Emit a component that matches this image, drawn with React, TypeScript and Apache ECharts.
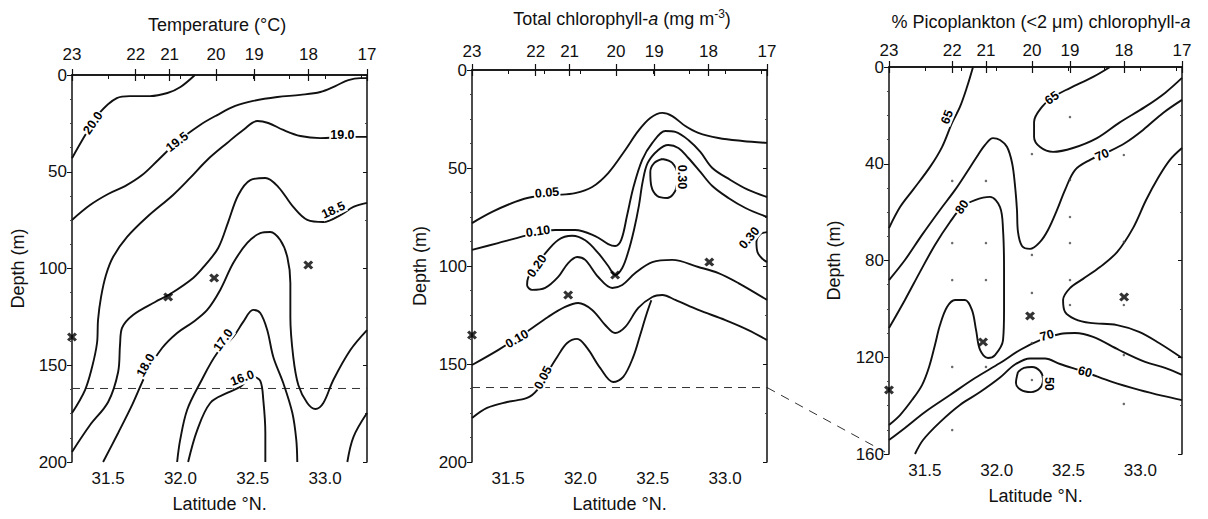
import React, { useEffect, useRef } from "react";
import * as echarts from "echarts";

const FONT = '"Liberation Sans", Arial, Helvetica, sans-serif';
const INK = "#111111";

// ---- shared axes ----
const stationLats = [31.25, 31.69, 31.925, 32.245, 32.51, 32.885, 33.29];
const stationNames = ["23", "22", "21", "20", "19", "18", "17"];
const latMin = 31.25;
const latMax = 33.29;

// ---- Panel 1: Temperature (°C) contours [lat, depth] ----
const temp20_0 = [[31.25, 43], [31.35, 30], [31.44, 19.6], [31.56, 11.9], [31.65, 10.9], [31.79, 10.9], [31.91, 9.3], [32.0, 6.2], [32.1, 0]];
const temp19_5 = [[31.25, 74.9], [31.375, 67.2], [31.5, 61.5], [31.617, 57.4], [31.735, 51.7], [31.846, 43.9], [31.977, 34.6], [32.136, 25.8], [32.254, 20.7], [32.379, 16], [32.503, 13.4], [32.67, 11.4], [32.829, 10.3], [32.967, 8.8], [33.071, 5.7], [33.161, 2.6], [33.244, 1.6], [33.29, 1.6]];
const temp19_0 = [[33.29, 32], [33.154, 32], [32.967, 32.6], [32.829, 31.5], [32.711, 28.4], [32.607, 24.8], [32.531, 23.8], [32.434, 28.4], [32.323, 35.1], [32.185, 43.9], [32.067, 53.2], [31.949, 62], [31.769, 73.4], [31.631, 83.7], [31.534, 94.1], [31.485, 103.4], [31.451, 114.7], [31.43, 126.6], [31.423, 138.5], [31.389, 150.9], [31.34, 162.8], [31.25, 174.7]];
const temp18_5 = [[31.25, 194.8], [31.375, 180.9], [31.5, 169], [31.569, 153.5], [31.582, 139.5], [31.596, 130.7], [31.672, 124], [31.825, 117.3], [31.929, 113.2], [32.088, 104.9], [32.171, 98.2], [32.261, 89.4], [32.33, 76], [32.4, 62], [32.483, 54.3], [32.587, 53.2], [32.677, 57.9], [32.78, 68.2], [32.877, 74.9], [32.988, 76], [33.106, 72.4], [33.196, 68.2], [33.29, 66.1]];
const temp18_0 = [[31.465, 200], [31.569, 185], [31.666, 170.5], [31.769, 153.5], [31.873, 141.1], [31.977, 133.3], [32.088, 127.6], [32.185, 121.4], [32.275, 111.1], [32.365, 97.2], [32.462, 86.8], [32.552, 81.7], [32.621, 81.1], [32.69, 85.3], [32.739, 94.1], [32.76, 107.5], [32.76, 125.1], [32.78, 145.7], [32.815, 160.2], [32.877, 169.5], [32.933, 172.6], [32.988, 169.5], [33.057, 157.6], [33.175, 142.1], [33.29, 131.8]];
const temp17_0 = [[31.977, 200], [31.998, 188.6], [32.046, 173.1], [32.136, 159.2], [32.254, 143.7], [32.365, 135.4], [32.434, 127.6], [32.503, 121.4], [32.552, 123], [32.6, 131.8], [32.642, 145.7], [32.711, 159.2], [32.774, 174.7], [32.801, 188.6], [32.808, 200]];
const temp16_0 = [[32.053, 200], [32.116, 183.5], [32.206, 169.5], [32.323, 164.3], [32.413, 161.2], [32.503, 156.1], [32.552, 158.1], [32.573, 168], [32.587, 185], [32.587, 200]];
const temp17_0b = [[33.154, 200], [33.196, 187.1], [33.29, 174.7]];
const tempLabels = [
  { lat: 31.395, depth: 24.8, text: "20.0" },
  { lat: 31.977, depth: 34.6, text: "19.5" },
  { lat: 33.12, depth: 31, text: "19.0" },
  { lat: 33.057, depth: 69.8, text: "18.5" },
  { lat: 31.76, depth: 150, text: "18.0" },
  { lat: 32.296, depth: 137, text: "17.0" },
  { lat: 32.427, depth: 156.6, text: "16.0" },
];
const tempMarkers = [[31.25, 135.4], [31.915, 114.7], [32.233, 104.9], [32.884, 98.2]];

// ---- Panel 2: Total chlorophyll-a contours ----
const chl005a = [[31.25, 78.1], [31.389, 72.4], [31.548, 67.3], [31.666, 64.8], [31.825, 63.8], [31.963, 62.8], [32.081, 59.7], [32.192, 52.6], [32.31, 40.8], [32.4, 31.1], [32.483, 24.5], [32.566, 21.9], [32.635, 23.5], [32.725, 28.6], [32.815, 32.1], [32.954, 34.7], [33.12, 36.2], [33.29, 37.2]];
const chl010a = [[31.25, 91.8], [31.43, 88.3], [31.666, 83.7], [31.825, 81.6], [31.963, 81.6], [32.102, 84.7], [32.192, 88.8], [32.24, 89.8], [32.282, 86.7], [32.323, 74], [32.365, 60.2], [32.427, 45.9], [32.497, 37.2], [32.587, 31.1], [32.656, 31.6], [32.746, 35.7], [32.829, 41.8], [32.912, 50], [33.037, 56.1], [33.161, 61.2], [33.29, 64.8]];
const chl020 = [[33.29, 117.3], [33.092, 108.7], [32.954, 103.6], [32.815, 100.5], [32.635, 96.9], [32.497, 98], [32.379, 103.6], [32.289, 109.7], [32.22, 111.2], [32.123, 105.6], [32.033, 96.9], [31.977, 95.4], [31.915, 98.5], [31.846, 105.6], [31.756, 111.2], [31.666, 112.2], [31.631, 109.7], [31.638, 106.1], [31.686, 99.5], [31.735, 95.4], [31.846, 86.7], [31.943, 84.6], [32.033, 86.9], [32.123, 93.4], [32.192, 100], [32.24, 104.6], [32.289, 101], [32.33, 92.9], [32.37, 81.6], [32.405, 68.9], [32.43, 57.1], [32.465, 47.4], [32.538, 40.8], [32.607, 38.3], [32.677, 39.8], [32.746, 44.9], [32.829, 52], [32.912, 59.2], [33.023, 65.3], [33.141, 70.4], [33.29, 75]];
const chl030a = [[32.566, 45.4], [32.635, 47.4], [32.67, 53.6], [32.663, 60.2], [32.6, 65.3], [32.531, 64.3], [32.49, 59.2], [32.483, 52], [32.511, 47.4], [32.566, 45.4]];
const chl030b = [[33.29, 82.7], [33.245, 83.7], [33.217, 87.8], [33.224, 92.9], [33.259, 96.4], [33.29, 98]];
const chl010b = [[31.25, 150.5], [31.43, 142.9], [31.617, 134.2], [31.776, 126], [31.894, 120.9], [31.984, 118.9], [32.081, 122.4], [32.171, 130.1], [32.24, 134.2], [32.31, 131.1], [32.4, 121.4], [32.497, 115.8], [32.566, 114.8], [32.656, 117.3], [32.815, 122.4], [33.002, 127.6], [33.161, 132.7], [33.29, 137.8]];
const chl005b = [[31.25, 177.6], [31.354, 172.4], [31.493, 169.4], [31.631, 167.3], [31.7, 163.3], [31.77, 154.6], [31.839, 146.4], [31.908, 139.3], [31.977, 137.2], [32.046, 141.8], [32.136, 152], [32.226, 159.2], [32.296, 156.6], [32.365, 146.4], [32.413, 135.2], [32.455, 125], [32.49, 117.5]];
const chlLabels = [
  { lat: 31.769, depth: 62.6, text: "0.05" },
  { lat: 31.707, depth: 82.3, text: "0.10" },
  { lat: 31.7, depth: 100, text: "0.20" },
  { lat: 32.704, depth: 54.6, text: "0.30" },
  { lat: 33.168, depth: 85.7, text: "0.30" },
  { lat: 31.562, depth: 137.2, text: "0.10" },
  { lat: 31.742, depth: 157, text: "0.05" },
];
const chlMarkers = [[31.25, 135.2], [31.915, 114.8], [32.24, 104.6], [32.891, 98]];

// ---- Panel 3: % Picoplankton chlorophyll-a contours ----
const pico65a = [[31.835, 0], [31.793, 8.3], [31.744, 16.5], [31.689, 23.1], [31.619, 33.1], [31.536, 41.3], [31.417, 50.8], [31.327, 57.9], [31.25, 66.6]];
const pico65b = [[32.789, 0], [32.671, 4.1], [32.51, 8.7], [32.392, 12.4], [32.315, 16.5], [32.26, 22.7], [32.26, 28.9], [32.302, 33.1], [32.392, 35.1], [32.531, 33.5], [32.698, 29.4], [32.852, 23.1], [33.033, 16.5], [33.172, 10.7], [33.29, 4.5]];
const pico70a = [[33.29, 13.6], [33.158, 19], [33.019, 26], [32.894, 31.4], [32.775, 35.1], [32.65, 38.4], [32.545, 42.6], [32.476, 50.8], [32.42, 59.1], [32.357, 67.4], [32.302, 72.3], [32.232, 75.2], [32.176, 74], [32.148, 68.2], [32.141, 59.1], [32.127, 48.8], [32.107, 39.7], [32.072, 33.1], [32.023, 30.2], [31.974, 29.4], [31.919, 32.2], [31.856, 37.6], [31.793, 43.4], [31.71, 50.8], [31.605, 59.1], [31.48, 69.4], [31.361, 79.8], [31.25, 88.1]];
const pico70b = [[33.29, 33.5], [33.206, 38.4], [33.123, 45.9], [33.04, 55], [32.949, 66.6], [32.838, 76.5], [32.719, 82.7], [32.601, 87.6], [32.51, 91.4], [32.462, 96.3], [32.476, 101.3], [32.545, 104.2], [32.65, 105.8], [32.838, 106.7], [32.991, 109.5], [33.13, 114.1], [33.29, 120.3]];
const pico80 = [[31.25, 107.9], [31.361, 96.3], [31.466, 84.7], [31.57, 73.6], [31.675, 64.1], [31.758, 57.9], [31.849, 55], [31.953, 53.7], [32.023, 57.9], [32.044, 67.4], [32.051, 83.9], [32.051, 100.5], [32.044, 112.9], [31.988, 119.1], [31.939, 120.3], [31.884, 117], [31.856, 108.7], [31.828, 100.5], [31.779, 96.3], [31.71, 96.3], [31.654, 99.2], [31.605, 106.7], [31.57, 114.9], [31.529, 124], [31.48, 131.5], [31.41, 137.7], [31.327, 143.9], [31.25, 148]];
const pico70c = [[31.25, 154.2], [31.361, 149.2], [31.501, 142.6], [31.675, 135.6], [31.849, 128.6], [32.023, 122.4], [32.162, 117], [32.302, 112.9], [32.441, 110.4], [32.545, 110], [32.671, 111.6], [32.852, 117], [33.033, 121.9], [33.172, 124.4], [33.29, 127.3]];
const pico60 = [[31.431, 160], [31.487, 154.2], [31.605, 146.8], [31.744, 139.7], [31.884, 134.4], [32.023, 128.4], [32.127, 123], [32.232, 120.5], [32.336, 120.5], [32.441, 122.8], [32.615, 126.1], [32.803, 130.2], [32.991, 133.5], [33.158, 136], [33.29, 137.7]];
const pico50 = [[32.148, 126.1], [32.19, 124.4], [32.246, 124], [32.302, 125.7], [32.322, 129], [32.302, 132.7], [32.239, 134.4], [32.169, 133.5], [32.134, 130.6], [32.148, 126.1]];
const picoLabels = [
  { lat: 31.654, depth: 20.7, text: "65" },
  { lat: 32.385, depth: 12.8, text: "65" },
  { lat: 32.733, depth: 36.4, text: "70" },
  { lat: 31.758, depth: 57.9, text: "80" },
  { lat: 32.35, depth: 111, text: "70" },
  { lat: 32.615, depth: 126.1, text: "60" },
  { lat: 32.365, depth: 131, text: "50" },
];
const picoMarkers = [[31.25, 133.5], [31.905, 113.7], [32.232, 102.9], [32.887, 95.1]];
const picoSamples = [
  [31.69, 47.1], [31.69, 72.8], [31.69, 88.1], [31.69, 124], [31.69, 150.1],
  [31.925, 47.1], [31.925, 72.8], [31.925, 88.1], [31.925, 124],
  [32.245, 36], [32.245, 77.7], [32.245, 93.4], [32.245, 114.1], [32.245, 129.4],
  [32.51, 20.7], [32.51, 46.7], [32.51, 62], [32.51, 72.8], [32.51, 88.1], [32.51, 98.4],
  [32.885, 36.4], [32.885, 72.3], [32.885, 98.4], [32.885, 119.1], [32.885, 139.3],
];
const dashedDepth = 162;

// ---- styles (not data) ----
const tempLabelRot = [55, 38, 0, 25, 60, 55, 20];
const chlLabelRot = [5, 8, 55, -90, 50, 30, 62];
const picoLabelRot = [68, 35, 25, 55, 15, -15, -90];

const X_MARK = "path://M0,2.3L2.3,0L5,2.7L7.7,0L10,2.3L7.3,5L10,7.7L7.7,10L5,7.3L2.3,10L0,7.7L2.7,5Z";

function isHalf(v: number) {
  return Math.abs(v * 2 - Math.round(v * 2)) < 1e-6;
}

function makeAxes(gi: number, maxDepth: number, yInterval: number, topLabelMargin: number, yNameGap: number) {
  const axisLine = { show: true, lineStyle: { color: INK, width: 1.5 } };
  const xs = [
    {
      gridIndex: gi, type: "value", position: "bottom", min: latMin, max: latMax, interval: 0.25,
      axisLine, axisTick: { show: true, length: 4, lineStyle: { color: INK, width: 1 } },
      axisLabel: {
        interval: 0, margin: 8, fontSize: 17, color: INK, fontFamily: FONT,
        formatter: (v: number) => (isHalf(v) && v > latMin + 0.01 && v < latMax - 0.05 ? v.toFixed(1) : ""),
      },
      splitLine: { show: false },
      name: "Latitude °N.", nameLocation: "middle", nameGap: 33,
      nameTextStyle: { fontSize: 18, color: INK, fontFamily: FONT },
    },
    {
      gridIndex: gi, type: "value", position: "top", min: latMin, max: latMax,
      axisLine,
      axisTick: { show: true, length: 6, customValues: stationLats, lineStyle: { color: INK, width: 1.2 } },
      axisLabel: {
        show: true, margin: topLabelMargin, fontSize: 17, color: INK, fontFamily: FONT,
        customValues: stationLats,
        formatter: (v: number) => {
          const i = stationLats.findIndex((s) => Math.abs(s - v) < 1e-6);
          return i >= 0 ? stationNames[i] : "";
        },
      },
      splitLine: { show: false },
    },
    {
      gridIndex: gi, type: "value", position: "top", min: latMin, max: latMax,
      axisLine: { show: false },
      axisTick: { show: true, inside: true, length: 6, customValues: stationLats, lineStyle: { color: INK, width: 1.2 } },
      axisLabel: { show: false },
      splitLine: { show: false },
    },
  ];
  const ys = [
    {
      gridIndex: gi, type: "value", position: "left", inverse: true, min: 0, max: maxDepth, interval: yInterval,
      axisLine, axisTick: { show: true, length: 5, lineStyle: { color: INK } },
      minorTick: { show: true, splitNumber: 4, length: 2, lineStyle: { color: "#444" } },
      axisLabel: { margin: 5, fontSize: 17, color: INK, fontFamily: FONT },
      splitLine: { show: false },
      name: "Depth (m)", nameLocation: "middle", nameGap: yNameGap, nameRotate: 90,
      nameTextStyle: { fontSize: 18, color: INK, fontFamily: FONT },
    },
    {
      gridIndex: gi, type: "value", position: "right", inverse: true, min: 0, max: maxDepth, interval: yInterval,
      axisLine, axisTick: { show: true, inside: true, length: 4, lineStyle: { color: INK } },
      minorTick: { show: true, splitNumber: 2, length: 2, lineStyle: { color: "#444" } },
      axisLabel: { show: false },
      splitLine: { show: false },
    },
  ];
  return { xs, ys };
}

function contour(data: number[][], xi: number, yi: number) {
  return {
    type: "line", xAxisIndex: xi, yAxisIndex: yi, data, smooth: 0.35, symbol: "none",
    silent: true, z: 2, lineStyle: { color: INK, width: 1.9 },
  };
}

function labels(items: { lat: number; depth: number; text: string }[], rots: number[], xi: number, yi: number) {
  const base = {
    show: true, position: "inside", fontFamily: FONT, fontSize: 12.5, fontWeight: "bold",
    color: "#000", backgroundColor: "#fff", padding: [0, 1], textBorderWidth: 0, opacity: 1,
  };
  return {
    type: "scatter", xAxisIndex: xi, yAxisIndex: yi, symbol: "circle", symbolSize: 1,
    itemStyle: { color: "rgba(0,0,0,0)" }, silent: true, z: 6,
    label: base,
    data: items.map((it, k) => ({ value: [it.lat, it.depth], label: { ...base, formatter: it.text, rotate: rots[k] } })),
  };
}

function markers(data: number[][], xi: number, yi: number) {
  return {
    type: "scatter", xAxisIndex: xi, yAxisIndex: yi, data, symbol: X_MARK, symbolSize: [10, 9],
    itemStyle: { color: "#000" }, silent: true, z: 7,
  };
}

function dashed(xi: number, yi: number) {
  return {
    type: "line", xAxisIndex: xi, yAxisIndex: yi, data: [[latMin, dashedDepth], [latMax, dashedDepth]],
    symbol: "none", silent: true, z: 1, lineStyle: { color: "#333", width: 1, type: [8, 6] },
  };
}

function buildOption() {
  const a0 = makeAxes(0, 200, 50, 12, 45);
  const a1 = makeAxes(1, 200, 50, 10, 43);
  const a2 = makeAxes(2, 160, 40, 8, 46);
  const series: any[] = [];
  [temp20_0, temp19_5, temp19_0, temp18_5, temp18_0, temp17_0, temp16_0, temp17_0b].forEach((d) => series.push(contour(d, 0, 0)));
  series.push(dashed(0, 0));
  series.push(labels(tempLabels, tempLabelRot, 0, 0));
  series.push(markers(tempMarkers, 0, 0));

  [chl005a, chl010a, chl020, chl030a, chl030b, chl010b, chl005b].forEach((d) => series.push(contour(d, 3, 2)));
  series.push(dashed(3, 2));
  series.push(labels(chlLabels, chlLabelRot, 3, 2));
  series.push(markers(chlMarkers, 3, 2));

  [pico65a, pico65b, pico70a, pico70b, pico80, pico70c, pico60, pico50].forEach((d) => series.push(contour(d, 6, 4)));
  series.push({
    type: "scatter", xAxisIndex: 6, yAxisIndex: 4, data: picoSamples, symbol: "circle", symbolSize: 2.5,
    itemStyle: { color: "#444" }, silent: true, z: 3,
  });
  series.push(labels(picoLabels, picoLabelRot, 6, 4));
  series.push(markers(picoMarkers, 6, 4));

  return {
    animation: false,
    backgroundColor: "#ffffff",
    textStyle: { fontFamily: FONT },
    grid: [
      { left: 72, top: 75, width: 295, height: 387 },
      { left: 472, top: 70, width: 295, height: 392 },
      { left: 889, top: 67, width: 293, height: 387 },
    ],
    xAxis: [...a0.xs, ...a1.xs, ...a2.xs],
    yAxis: [...a0.ys, ...a1.ys, ...a2.ys],
    series,
  };
}

function titles() {
  const base = { fontFamily: FONT, fontSize: 18, fill: INK };
  return [
    {
      type: "text", x: 217, y: 25, silent: true,
      style: { ...base, text: "Temperature (°C)", align: "center", verticalAlign: "middle" },
    },
    {
      type: "text", x: 622, y: 19, silent: true,
      style: {
        ...base, align: "center", verticalAlign: "middle",
        text: "{n|Total chlorophyll-}{i|a}{n| (mg m}{s|-3}{n|)}",
        rich: {
          n: { fontFamily: FONT, fontSize: 18, fill: INK, lineHeight: 22 },
          i: { fontFamily: FONT, fontSize: 18, fill: INK, fontStyle: "italic", lineHeight: 22 },
          s: { fontFamily: FONT, fontSize: 12, fill: INK, verticalAlign: "top", lineHeight: 12 },
        },
      },
    },
    {
      type: "text", x: 1041, y: 22, silent: true,
      style: {
        ...base, align: "center", verticalAlign: "middle",
        text: "{n|% Picoplankton (<2 μm) chlorophyll-}{i|a}",
        rich: {
          n: { fontFamily: FONT, fontSize: 18, fill: INK },
          i: { fontFamily: FONT, fontSize: 18, fill: INK, fontStyle: "italic" },
        },
      },
    },
  ];
}

export default function App() {
  const ref = useRef<HTMLDivElement>(null);
  useEffect(() => {
    if (!ref.current) return;
    const chart = echarts.init(ref.current, undefined, { renderer: "svg" });
    const option: any = buildOption();
    option.graphic = titles();
    chart.setOption(option);
    const p1 = chart.convertToPixel({ gridIndex: 1 } as any, [latMax, dashedDepth]) as number[];
    const p2 = chart.convertToPixel({ gridIndex: 2 } as any, [latMin, 160]) as number[];
    if (p1 && p2) {
      chart.setOption({
        graphic: [
          ...titles(),
          {
            type: "line", silent: true,
            shape: { x1: p1[0], y1: p1[1], x2: p2[0] - 4, y2: p2[1] - 2 },
            style: { stroke: "#333", lineWidth: 1, lineDash: [9, 7] },
          },
        ],
      });
    }
    return () => chart.dispose();
  }, []);
  return (
    <div
      ref={ref}
      style={{ position: "fixed", left: 0, top: 0, width: 1208, height: 519, background: "#fff" }}
    />
  );
}
